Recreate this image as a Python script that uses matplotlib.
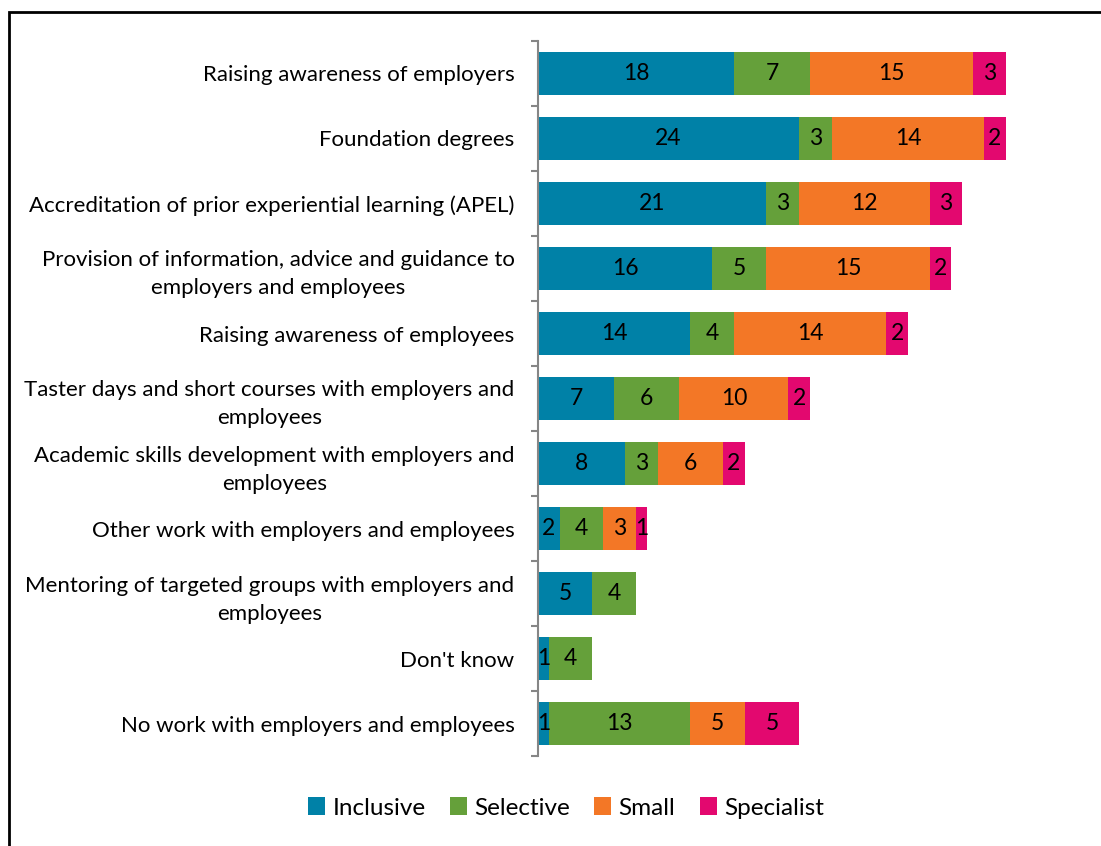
import numpy as np
import matplotlib.pyplot as plt
from matplotlib.patches import Rectangle

plt.rcParams['font.family'] = ['Lato', 'DejaVu Sans']

categories = [
    'Raising awareness of employers',
    'Foundation degrees',
    'Accreditation of prior experiential learning (APEL)',
    'Provision of information, advice and guidance to\nemployers and employees',
    'Raising awareness of employees',
    'Taster days and short courses with employers and\nemployees',
    'Academic skills development with employers and\nemployees',
    'Other work with employers and employees',
    'Mentoring of targeted groups with employers and\nemployees',
    "Don't know",
    'No work with employers and employees',
]

inclusive = [18, 24, 21, 16, 14, 7, 8, 2, 5, 1, 1]
selective = [7, 3, 3, 5, 4, 6, 3, 4, 4, 4, 13]
small = [15, 14, 12, 15, 14, 10, 6, 3, 0, 0, 5]
specialist = [3, 2, 3, 2, 2, 2, 2, 1, 0, 0, 5]

series = [
    ('Inclusive', inclusive, '#0081a7'),
    ('Selective', selective, '#65a03a'),
    ('Small', small, '#f37726'),
    ('Specialist', specialist, '#e3086f'),
]

fig = plt.figure(figsize=(11.01, 8.46), dpi=100)
ax = fig.add_axes([538 / 1101, 1 - 756 / 846, 544 / 1101, 715 / 846])

y = np.arange(len(categories))
left = np.zeros(len(categories))
for name, vals, color in series:
    vals = np.array(vals, dtype=float)
    bars = ax.barh(y, vals, left=left, height=0.67, color=color, label=name)
    for rect, v in zip(bars, vals):
        if v > 0:
            ax.text(rect.get_x() + rect.get_width() / 2, rect.get_y() + rect.get_height() / 2,
                    f'{int(v)}', ha='center', va='center', fontsize=16.5, color='black')
    left += vals

ax.set_xlim(0, 50)
ax.set_ylim(len(categories) - 0.5, -0.5)

ax.set_yticks(y)
ax.set_yticklabels(categories, fontsize=16, multialignment='center', linespacing=1.5)
ax.set_yticks(np.arange(len(categories) + 1) - 0.5, minor=True)
ax.tick_params(axis='y', which='major', length=0, pad=17)
ax.tick_params(axis='y', which='minor', length=5, color='#868686', width=1.5)
ax.set_xticks([])

for side in ['top', 'right', 'bottom']:
    ax.spines[side].set_visible(False)
ax.spines['left'].set_color('#868686')
ax.spines['left'].set_linewidth(1.5)

fig.legend(loc='center', bbox_to_anchor=(566 / 1101, 1 - 808 / 846), ncol=4,
           frameon=False, fontsize=17.5, handlelength=0.7, handleheight=0.7,
           handletextpad=0.3, columnspacing=1.0)

# outer frame around the chart area
fig.patches.append(Rectangle((9 / 1101, -0.1), 1.2, 1 - 12 / 846 + 0.1,
                             transform=fig.transFigure, fill=False,
                             edgecolor='black', linewidth=2))

fig.savefig('out.png', dpi=100)
